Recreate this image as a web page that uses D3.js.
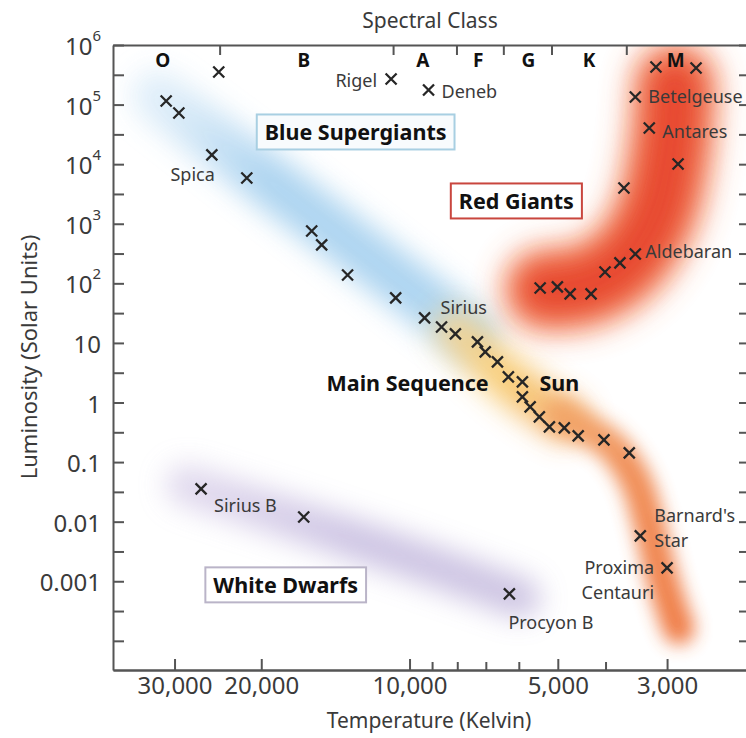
<!DOCTYPE html>
<html><head><meta charset="utf-8">
<script src="https://cdn.jsdelivr.net/npm/d3@7"></script>
<style>body{margin:0;background:#fff}svg{display:block}</style>
</head><body>
<svg id="c" width="746" height="738"></svg>
<script>
// ---------- DATA ----------
// [temperature K, luminosity (solar units), name]
const mainSequenceStars = [
  [31200,115000],[29400,72300],[25200,14300,"Spica"],[21400,5860],[15800,757],[15080,441],
  [13360,138],[10670,56.9],[9320,26.3,"Sirius"],[8610,18.5],[8070,14.2],[7280,10.4],[7020,7.06],
  [6630,4.8],[6300,2.69],[5900,2.22,"Sun"],[5900,1.24],[5690,0.844],[5450,0.573],[5200,0.39],
  [4850,0.375],[4545,0.275],[4030,0.236],[3580,0.143],
  [3400,0.00578,"Barnard's|Star"],[3000,0.00168,"Proxima|Centauri"]
];
const supergiantStars = [[24400,352000],[10900,269000,"Rigel"],[9150,176000,"Deneb"]];
const giantStars = [
  [5430,83.7],[5010,87.1],[4720,66.4],[4280,66.4],[4010,155],[3740,220],[3480,311,"Aldebaran"],
  [3670,3990],[2850,10070],[3260,40500,"Antares"],[3480,134000,"Betelgeuse"],[3160,428000],[2620,411000]
];
const whiteDwarfStars = [[26500,0.0355,"Sirius B"],[16400,0.012],[6270,0.000615,"Procyon B"]];

const spectralClasses = ["O","B","A","F","G","K","M"];
const spectralClassTemps = [31700,16400,9400,7250,5740,4320,2880];
const spectralBoundaries = [24300,10800,8030,6450,5150,3630];

const tempTicksMajor = [30000,20000,10000,5000,3000];
const tempTickLabels = ["30,000","20,000","10,000","5,000","3,000"];
const tempTicksMinor = [9000,8000,7000,6000,4000];

const lumTicks = [1e6,1e5,1e4,1e3,1e2,10,1,0.1,0.01,0.001,1e-4];
const lumTickLabels = ["10|6","10|5","10|4","10|3","10|2","10","1","0.1","0.01","0.001",""];

// band centre lines [T, L]
const bandBlue = [[32500,140000],[16640,2065],[7520,13.6]];
const bandYellow = [[8070,16.5],[6300,2.4],[4830,0.51]];
const bandOrange = [[4940,0.62],[3913,0.1945],[3483,0.0502],[3279,0.0107],[3100,0.00155],[2931,0.000331],[2840,0.00016]];
const bandRed = [[5300,78],[4398,92],[3650,228],[3173,1406],[2958,17300],[2890,213000]];
const bandWhite = [[28460,0.0414],[16640,0.00993],[9500,0.00212],[5958,0.000526]];

const regionLabels = [
  {text:"Blue Supergiants", t:12865, l:34700, key:"blue"},
  {text:"Red Giants", t:6069, l:2413, key:"red"},
  {text:"White Dwarfs", t:17840, l:0.00087, key:"white"}
];
const mainSequenceLabel = {text:"Main Sequence", t:10093, l:2.13};

// ---------- LAYOUT ----------
const W=746,H=738;
const M={left:113,right:748,top:45,bottom:670};
const x=d3.scaleLog().domain([40000,2055]).range([M.left,M.right]);
const y=d3.scaleLog().domain([3.24e-5,1e6]).range([M.bottom,M.top]);
const FONT="'Noto Sans', 'DejaVu Sans', sans-serif";
const TXT="#3a3a3a";

const nameLayout = {
  "Spica":{dx:3,dy:19,anchor:"end"},
  "Sirius":{dx:16,dy:-11,anchor:"start"},
  "Sun":{dx:17,dy:1,anchor:"start",bold:true},
  "Rigel":{dx:-14,dy:1,anchor:"end"},
  "Deneb":{dx:13,dy:1,anchor:"start"},
  "Aldebaran":{dx:10,dy:-3,anchor:"start"},
  "Antares":{dx:13,dy:3,anchor:"start"},
  "Betelgeuse":{dx:13,dy:-1,anchor:"start"},
  "Sirius B":{dx:13,dy:16,anchor:"start"},
  "Procyon B":{dx:-1,dy:28,anchor:"start"},
  "Barnard's|Star":{dx:14,dy:-21,anchor:"start",lineH:25},
  "Proxima|Centauri":{dx:-13,dy:-1,anchor:"end",lineH:25}
};
const boxStyle = {
  blue:{stroke:"#a8cfe2",fill:"#f8fbfd"},
  red:{stroke:"#c9463e",fill:"#ffffff"},
  white:{stroke:"#bab4c8",fill:"#ffffff"}
};

const svg=d3.select("#c");
svg.append("rect").attr("width",W).attr("height",H).attr("fill","#fff");
const defs=svg.append("defs");
defs.append("clipPath").attr("id","plot").append("rect")
  .attr("x",M.left).attr("y",M.top).attr("width",M.right-M.left).attr("height",M.bottom-M.top);
function blur(id,sd){
  defs.append("filter").attr("id",id).attr("filterUnits","userSpaceOnUse")
    .attr("x",0).attr("y",0).attr("width",W).attr("height",H)
    .append("feGaussianBlur").attr("stdDeviation",sd);
}
blur("b8",9);blur("b10",12);blur("b12",14);blur("b16",16);
function grad(id,pts,stops){
  const a=pts[0],b=pts[pts.length-1];
  const g=defs.append("linearGradient").attr("id",id).attr("gradientUnits","userSpaceOnUse")
    .attr("x1",x(a[0])).attr("y1",y(a[1])).attr("x2",x(b[0])).attr("y2",y(b[1]));
  stops.forEach(s=>g.append("stop").attr("offset",s[0]).attr("stop-color",s[1]).attr("stop-opacity",s[2]==null?1:s[2]));
  return "url(#"+id+")";
}
const line=d3.line().x(d=>x(d[0])).y(d=>y(d[1])).curve(d3.curveCatmullRom);
const bands=svg.append("g").attr("clip-path","url(#plot)");
function band(pts,w,stroke,op,f){
  bands.append("path").attr("d",line(pts)).attr("fill","none").attr("stroke",stroke)
    .attr("stroke-width",w).attr("stroke-linecap","round").attr("stroke-linejoin","round")
    .attr("opacity",op).attr("filter","url(#"+f+")");
}
band(bandWhite,40,grad("gw",bandWhite,[[0,"#cfc3e4",0.85],[0.5,"#bcb0da"],[1,"#b0a2d2",0.85]]),0.75,"b12");
band(bandBlue,52,grad("gb",bandBlue,[[0,"#cfe5f6",0.7],[0.35,"#a7d1ef"],[1,"#a6d0ef"]]),0.92,"b12");
band(bandYellow,44,grad("gy",bandYellow,[[0,"#f8d592"],[0.5,"#f7c766"],[1,"#f3ac62"]]),0.9,"b12");
band(bandOrange,32,grad("go",bandOrange,[[0,"#f2a467"],[0.3,"#ef8447"],[1,"#ee7035"]]),0.9,"b8");
band(bandRed,84,"#f27544",0.85,"b16");
band(bandRed,54,"#e6422b",0.9,"b12");

// region label boxes
regionLabels.forEach(r=>{
  const g=svg.append("g");
  const t=g.append("text").attr("x",x(r.t)).attr("y",y(r.l)).attr("text-anchor","middle")
    .attr("dominant-baseline","central").attr("font-family",FONT).attr("font-weight","bold")
    .attr("font-size",21.5).attr("fill","#111").text(r.text);
  const bb=t.node().getBBox();
  g.insert("rect","text").attr("x",bb.x-8).attr("y",y(r.l)-17.5).attr("width",bb.width+16).attr("height",35)
    .attr("fill",boxStyle[r.key].fill).attr("stroke",boxStyle[r.key].stroke).attr("stroke-width",2);
});
svg.append("text").attr("x",x(mainSequenceLabel.t)).attr("y",y(mainSequenceLabel.l))
  .attr("text-anchor","middle").attr("dominant-baseline","central").attr("font-family",FONT)
  .attr("font-weight","bold").attr("font-size",21.5).attr("fill","#111").text(mainSequenceLabel.text);

// markers
const allStars=[...mainSequenceStars,...supergiantStars,...giantStars,...whiteDwarfStars];
svg.append("g").selectAll("path").data(allStars).join("path")
  .attr("transform",d=>`translate(${x(d[0])},${y(d[1])})`)
  .attr("d","M-5.5,-5.5L5.5,5.5M-5.5,5.5L5.5,-5.5")
  .attr("stroke","#262626").attr("stroke-width",2.3).attr("fill","none");

// star names
allStars.filter(d=>d[2]).forEach(d=>{
  const L=nameLayout[d[2]];
  const lines=d[2].split("|");
  lines.forEach((s,i)=>{
    svg.append("text").attr("x",x(d[0])+L.dx).attr("y",y(d[1])+L.dy+i*(L.lineH||0))
      .attr("text-anchor",L.anchor).attr("dominant-baseline","central")
      .attr("font-family",FONT).attr("font-size",L.bold?21.5:18)
      .attr("font-weight",L.bold?"bold":"normal").attr("fill",L.bold?"#111":TXT).text(s);
  });
});

// axes
const AX="#555";
function styleAxis(g){g.selectAll("path,line").attr("stroke",AX).attr("stroke-width",2);}
const halfDecades=d3.range(-8,13).map(k=>Math.pow(10,k/2));
svg.append("g").attr("transform",`translate(${M.left},0)`)
  .call(d3.axisLeft(y).tickValues(halfDecades).tickSize(-11).tickSizeOuter(0).tickFormat(""))
  .call(styleAxis);
const ly=svg.append("g");
lumTicks.forEach((v,i)=>{
  const lab=lumTickLabels[i]; if(!lab) return;
  const parts=lab.split("|");
  const t=ly.append("text").attr("x",M.left-12).attr("y",y(v)).attr("text-anchor","end")
    .attr("dominant-baseline","central").attr("font-family",FONT).attr("font-size",24).attr("fill",TXT);
  t.append("tspan").text(parts[0]);
  if(parts[1]) t.append("tspan").attr("font-size",15).attr("dy",-10).text(parts[1]);
});
svg.append("g").attr("transform",`translate(${M.right},0)`)
  .call(d3.axisLeft(y).tickValues(halfDecades).tickSize(9).tickSizeOuter(0).tickFormat(""))
  .call(styleAxis);
svg.append("g").attr("transform",`translate(0,${M.top})`)
  .call(d3.axisBottom(x).tickValues(spectralBoundaries).tickSize(10).tickSizeOuter(0).tickFormat(""))
  .call(styleAxis);
svg.append("g").selectAll("text").data(spectralClasses).join("text")
  .attr("x",(d,i)=>x(spectralClassTemps[i])).attr("y",M.top+15).attr("text-anchor","middle")
  .attr("dominant-baseline","central").attr("font-family",FONT).attr("font-weight","bold")
  .attr("font-size",19).attr("fill","#111").text(d=>d);
svg.append("g").attr("transform",`translate(0,${M.bottom})`)
  .call(d3.axisBottom(x).tickValues(tempTicksMinor).tickSize(-8).tickSizeOuter(0).tickFormat(""))
  .call(styleAxis);
const bx=svg.append("g").attr("transform",`translate(0,${M.bottom})`)
  .call(d3.axisBottom(x).tickValues(tempTicksMajor).tickSize(-11).tickSizeOuter(0).tickPadding(7)
    .tickFormat((d,i)=>tempTickLabels[i]))
  .call(styleAxis);
bx.selectAll("text").attr("font-family",FONT).attr("font-size",24).attr("fill",TXT);

// titles
svg.append("text").attr("x",430).attr("y",20).attr("text-anchor","middle").attr("dominant-baseline","central")
  .attr("font-family",FONT).attr("font-size",21).attr("fill",TXT).text("Spectral Class");
svg.append("text").attr("x",429).attr("y",720).attr("text-anchor","middle").attr("dominant-baseline","central")
  .attr("font-family",FONT).attr("font-size",21).attr("fill",TXT).text("Temperature (Kelvin)");
svg.append("text").attr("transform","translate(28,357) rotate(-90)").attr("text-anchor","middle")
  .attr("dominant-baseline","central").attr("font-family",FONT).attr("font-size",22).attr("fill",TXT)
  .text("Luminosity (Solar Units)");
</script>
</body></html>
